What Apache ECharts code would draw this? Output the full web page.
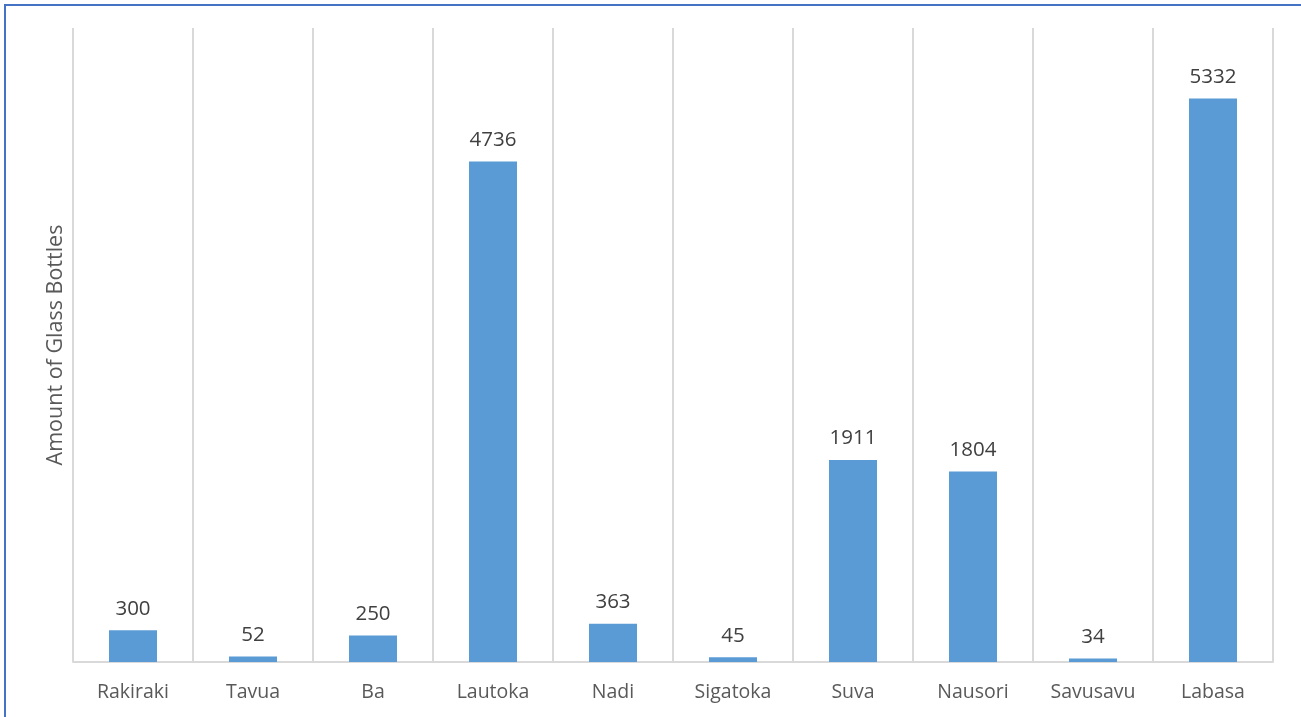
<!DOCTYPE html>
<html>
<head>
<meta charset="utf-8">
<script src="https://cdn.jsdelivr.net/npm/echarts@6/dist/echarts.min.js"></script>
<style>
  html, body { margin: 0; padding: 0; background: #fff; overflow: hidden; }
  #frame { position: absolute; left: 4px; top: 4px; width: 1320px; height: 730px; border: 2px solid #4472C4; box-sizing: border-box; }
  #chart { position: absolute; left: 0; top: 0; width: 1301px; height: 717px; }
</style>
</head>
<body>
<div id="frame"></div>
<div id="chart"></div>
<script>
const categories = ['Rakiraki', 'Tavua', 'Ba', 'Lautoka', 'Nadi', 'Sigatoka', 'Suva', 'Nausori', 'Savusavu', 'Labasa'];
const bottles = [300, 52, 250, 4736, 363, 45, 1911, 1804, 34, 5332];
const yAxisName = 'Amount of Glass Bottles';

const chart = echarts.init(document.getElementById('chart'));
const fontFamily = '"Open Sans", "Noto Sans", sans-serif';
chart.setOption({
  animation: false,
  backgroundColor: 'transparent',
  grid: { left: 73, right: 28, top: 28, bottom: 55 },
  xAxis: {
    type: 'category',
    data: categories,
    boundaryGap: true,
    axisLine: { show: true, lineStyle: { color: '#d9d9d9', width: 2 } },
    axisTick: { show: false },
    splitLine: { show: true, lineStyle: { color: '#d9d9d9', width: 2 } },
    axisLabel: { color: '#595959', fontSize: 19.5, fontFamily: fontFamily, margin: 20 }
  },
  yAxis: {
    type: 'value',
    min: 0,
    max: 6000,
    interval: 1000,
    name: yAxisName,
    nameLocation: 'middle',
    nameGap: 6,
    nameTextStyle: { color: '#595959', fontSize: 21.5, fontFamily: fontFamily },
    axisLine: { show: false },
    axisTick: { show: false },
    axisLabel: { show: false },
    splitLine: { show: false }
  },
  series: [{
    type: 'bar',
    data: bottles,
    barWidth: 48,
    itemStyle: { color: '#5B9BD5' },
    label: {
      show: true,
      position: 'top',
      distance: 11,
      color: '#404040',
      fontSize: 20.5,
      fontFamily: fontFamily
    }
  }]
});
</script>
</body>
</html>
